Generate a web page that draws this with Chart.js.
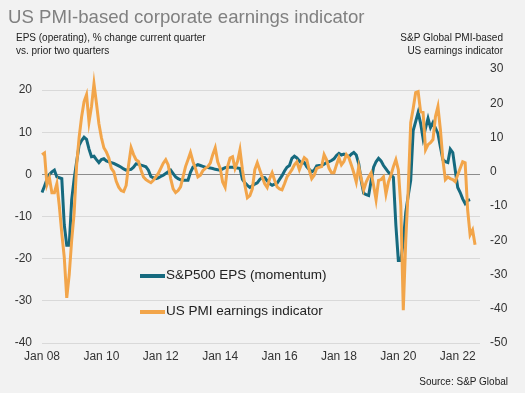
<!DOCTYPE html>
<html>
<head>
<meta charset="utf-8">
<script src="https://cdn.jsdelivr.net/npm/chart.js@4.4.0/dist/chart.umd.min.js"></script>
<style>
    body { margin: 0; background: #f2f2f2; font-family: "Liberation Sans", Arial, sans-serif; }
    #wrap { position: relative; width: 525px; height: 393px; overflow: hidden; }
    #chart { position: absolute; left: 0; top: 0; }
    .txt { position: absolute; white-space: nowrap; }
    #title { left: 8px; top: 6px; font-size: 18.6px; color: #808080; }
    .sub { font-size: 10px; color: #222; line-height: 13px; }
    .leg { position: absolute; font-size: 13.5px; color: #222; white-space: nowrap; }
    .swatch { position: absolute; width: 25px; height: 4px; }
</style>
</head>
<body>
<div id="wrap">
    <canvas id="chart" width="525" height="393"></canvas>
    <div class="txt" id="title">US PMI-based corporate earnings indicator</div>
    <div class="txt sub" style="left:16px; top:31px;">EPS (operating), % change current quarter<br>vs. prior two quarters</div>
    <div class="txt sub" style="right:22px; top:31px; text-align:right;">S&amp;P Global PMI-based<br>US earnings indicator</div>
    <div class="txt sub" style="right:17px; top:375px;">Source: S&amp;P Global</div>

    <div class="swatch" style="left:140px; top:274px; background:#166a7f;"></div>
    <div class="leg" style="left:166px; top:267px;">S&amp;P500 EPS (momentum)</div>
    <div class="swatch" style="left:140px; top:310px; background:#f2a54a;"></div>
    <div class="leg" style="left:166px; top:303px;">US PMI earnings indicator</div>
</div>

<script>

//Month names for the category labels
const monthNames = ["Jan", "Feb", "Mar", "Apr", "May", "Jun", "Jul", "Aug", "Sep", "Oct", "Nov", "Dec"];

//Axis runs Jan 2008 to Oct 2022
const firstYear = 2008;
const monthCount = 178;

const labels = [];
for (let i = 0; i < monthCount; i++) {
    const yr = String((firstYear + Math.floor(i / 12)) % 100).padStart(2, "0");
    labels.push(monthNames[i % 12] + " " + yr);
}

//S&P500 EPS momentum (left axis, %)
const epsValues = [
    -4.3, -2.8, -1.2, 0, 0.6, 1, -0.6, -0.8, -1, -12, -16.8, -16.8,
    -6, -1, 3, 6.9, 8, 8.8, 8.3, 6, 4.2, 4.3, 3.5, 2.8,
    3.5, 3.7, 3.2, 3, 2.8, 2.6, 2.3, 2, 1.7, 1.3, 1, 1.1,
    1.2, 1.7, 2.5, 2.4, 2.2, 2, 1.8, 1, -0.5, -0.8, -1, -0.8,
    -0.5, -0.2, 0.2, 0.6, 1, 0.2, -0.6, -1, -1.3, -1.4, -1.4, -1.4,
    0.5, 1.7, 2, 2.3, 2.1, 1.9, 1.7, 1.6, 1.5, 1.4, 1.2, 1.1,
    1, 1.3, 1.6, 1.7, 1.7, 1.7, 1.6, 1.5, 1.4, -1.2, -2, -2.6,
    -3.1, -2.7, -2.3, -2, -1.2, -0.7, -0.8, -1.5, -2.2, -2.6, -2.3, -2.1,
    -1.2, -0.3, 0.8, 1.7, 2.1, 3.8, 4.3, 3.9, 3.2, 2.6, 2.8, 1.8,
    1.2, 0.6, 1, 2, 2.1, 2.1, 2.4, 2.8, 3, 3.3, 3.7, 4.5,
    5, 4.6, 4.8, 4.5, 4.2, 4.8, 5.2, 4.6, 2.5, -1.5, -4.5, -4.8,
    -5, -1.5, 1.7, 3, 3.8, 3.2, 2.1, 1.3, 0.5, -0.1, -0.7, -12,
    -20.4, -20.4, -16, -9, -5, -1.4, 10.4, 12.5, 14.7, 12.1, 8.5, 11,
    13.3, 11.1, 12.3, 11, 9.7, 6.5, 3.5, 3, 2.8, 6, 5.2, 1,
    -3.1, -4.3, -5.8, -6.9, -6.2, -6
];

//S&P Global PMI-based US earnings indicator (right axis)
const pmiValues = [
    5, 5.5, -3.8, -1.8, -6.1, -6.1, -3.5, -10, -18, -25, -36.8, -30,
    -20, -12, 2, 10, 16, 20.5, 22.5, 14.5, 19, 25.7, 20, 14,
    10, 7, 5.8, 4, 1, 0, -2.8, -4.5, -5.5, -5.8, -4, 2,
    7, 5, 3.5, 3, 0.5, -1.5, -2.3, -2.8, -3.2, -2.5, -1.5, -0.5,
    1, 2.5, 3.5, 2, -2, -5, -6.1, -5.5, -4.4, -1.5, 1.5, 3.5,
    5.6, 3, 1, -1.5, -1, 0.3, 1, 1.5, 2.5, 5, 7, 2.9,
    1, -3, -4.5, 1.5, 4, 4.4, 1, 3, 6.4, 0.6, -4, -7.6,
    -7, -5, 0.6, 2.6, 0.5, -1.5, -3.5, -4.6, -2, -0.3, -2.5, -4.4,
    -5, -5.3, -3.5, -1.5, -0.5, 0.6, 2, 2.9, 0.6, 2.5, 4.1, 3.5,
    0.5, -2, -1, 1, 1.3, 1.5, 5, 3.5, 1, -0.3, -0.3, 2,
    4.1, 2, 3, 5, 4.1, 2, -0.3, -3, 1.5, -2, -5.3, -3,
    -1.5, -0.3, -4, -8.2, -2.5, -2.3, -1.5, -6.5, -3, -1, 1.5, 3.5,
    0.6, -10, -40.4, -20, -5, 14.3, 18.5, 23.1, 23.4, 17.5, 17.3, 6.4,
    7.9, 8.5, 9.4, 16.1, 19, 12.3, 3.5, -2.3, -1.5, -2, -2.3, -2.9,
    -0.9, 1, 2.9, 2.6, -11.1, -18.4, -17, -21.3
];

//Axis ranges
const leftMin = -40;
const leftMax = 25;
const rightMin = -50;
const rightMax = 30;

const tickColor = "#333333";
const tickFont = { family: "'Liberation Sans', Arial, sans-serif", size: 12 };

new Chart(document.querySelector("#chart"), {

    type: "line",

    data: {

        labels: labels,

        datasets: [
            {
                label: "S&P500 EPS (momentum)",
                data: epsValues,
                yAxisID: "y",
                borderColor: "#166a7f",
                borderWidth: 3,
                pointRadius: 0,
                tension: 0,
                order: 2
            },
            {
                label: "US PMI earnings indicator",
                data: pmiValues,
                yAxisID: "y2",
                borderColor: "#f2a54a",
                borderWidth: 3,
                pointRadius: 0,
                tension: 0,
                order: 1
            }
        ]

    },

    options: {

        responsive: false,
        animation: false,

        layout: {
            padding: { top: 69, left: 0, right: 0, bottom: 0 }
        },

        plugins: {
            legend: { display: false },
            tooltip: { enabled: false }
        },

        scales: {

            x: {
                offset: false,
                grid: { display: false, drawTicks: false },
                border: { display: false },
                ticks: {
                    autoSkip: false,
                    maxRotation: 0,
                    padding: 6,
                    color: tickColor,
                    font: tickFont,
                    callback: function(value, index) {
                        return index % 24 === 0 ? labels[index] : null;
                    }
                },
                afterFit: function(scale) {
                    scale.height = 50;
                }
            },

            y: {
                position: "left",
                min: leftMin,
                max: leftMax,
                afterBuildTicks: function(scale) {
                    scale.ticks = scale.ticks.filter(t => t.value % 10 === 0);
                },
                grid: {
                    drawTicks: false,
                    color: ctx => ctx.tick && ctx.tick.value === 0 ? "#8c8c8c" : "#d9d9d9",
                    lineWidth: 1
                },
                border: { display: false },
                ticks: {
                    stepSize: 10,
                    padding: 10,
                    color: tickColor,
                    font: tickFont
                },
                afterFit: function(scale) {
                    scale.width = 42;
                }
            },

            y2: {
                position: "right",
                min: rightMin,
                max: rightMax,
                grid: { display: false, drawTicks: false },
                border: { display: false },
                ticks: {
                    stepSize: 10,
                    padding: 10,
                    color: tickColor,
                    font: tickFont
                },
                afterFit: function(scale) {
                    scale.width = 45;
                }
            }

        }

    }

});

</script>
</body>
</html>
